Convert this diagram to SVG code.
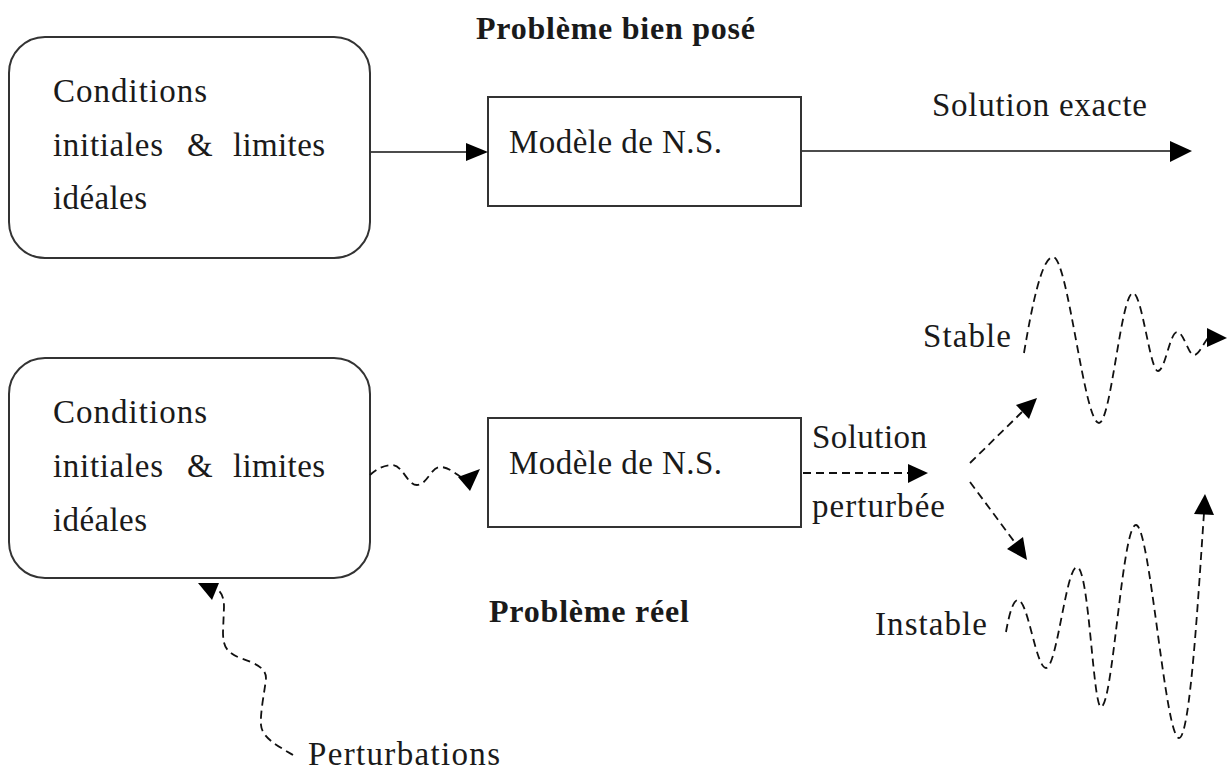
<svg xmlns="http://www.w3.org/2000/svg" width="1229" height="774" viewBox="0 0 1229 774">
<style>
text{font-family:"Liberation Serif","Times New Roman",serif;font-size:33px;fill:#1a1a1a}
.b{font-weight:bold;font-size:32px}
.box{fill:#fff;stroke:#333;stroke-width:2}
.ln{fill:none;stroke:#111;stroke-width:1.6}
.dl{fill:none;stroke:#111;stroke-width:1.8;stroke-dasharray:8 5}
.hd{fill:#000}
</style>
<rect width="1229" height="774" fill="#fff"/>
<text class="b" x="476" y="39" textLength="279">Problème bien posé</text>
<text class="b" x="489" y="622" textLength="200">Problème réel</text>
<g id="cond1">
<rect class="box" x="9" y="37" width="361" height="221" rx="36"/>
<text x="53" y="102" textLength="154">Conditions</text>
<text x="53" y="156" textLength="110">initiales</text>
<text x="187" y="156" textLength="19">&amp;</text>
<text x="233" y="156" textLength="92">limites</text>
<text x="53" y="209" textLength="94">idéales</text>
</g>
<g id="model1">
<rect class="box" x="488" y="97" width="313" height="109"/>
<text x="509" y="153" textLength="213">Modèle de N.S.</text>
</g>
<g id="cond2">
<rect class="box" x="9" y="358" width="361" height="220" rx="36"/>
<text x="53" y="423" textLength="154">Conditions</text>
<text x="53" y="477" textLength="110">initiales</text>
<text x="187" y="477" textLength="19">&amp;</text>
<text x="233" y="477" textLength="92">limites</text>
<text x="53" y="531" textLength="94">idéales</text>
</g>
<g id="model2">
<rect class="box" x="488" y="418" width="313" height="109"/>
<text x="509" y="474" textLength="213">Modèle de N.S.</text>
</g>
<g id="labels">
<text x="932" y="116" textLength="215">Solution exacte</text>
<text x="812" y="448" textLength="115">Solution</text>
<text x="812" y="517" textLength="133">perturbée</text>
<text x="923" y="347" textLength="88">Stable</text>
<text x="875" y="635" textLength="112">Instable</text>
<text x="308" y="765" textLength="192">Perturbations</text>
</g>
<g id="connectors">
<line class="ln" x1="371" y1="152" x2="468" y2="152"/>
<polygon class="hd" points="466,143 488,152 466,161"/>
<line class="ln" x1="802" y1="151" x2="1172" y2="151"/>
<polygon class="hd" points="1170,141 1192,151 1170,162"/>
<path class="dl" d="M370,475 C378,468 385,465 392,465 C403,465 407,485 417,485 C427,485 431,467 440,467 C447,467 452,471 461,477"/>
<polygon class="hd" points="458,477 480,469 470,491"/>
<line class="dl" x1="803" y1="473" x2="910" y2="473"/>
<polygon class="hd" points="908,464 928,473 908,483"/>
<line class="dl" x1="970" y1="463" x2="1022" y2="412"/>
<polygon class="hd" points="1016,405 1037,398 1029,419"/>
<line class="dl" x1="970" y1="482" x2="1016" y2="544"/>
<polygon class="hd" points="1007,549 1023,537 1027,560"/>
<path class="dl" d="M1024,353 C1032,305 1042,257 1053,257 C1068,257 1084,423 1099,423 C1111,423 1121,293 1133,293 C1142,293 1150,371 1158,371 C1165,371 1170,332 1177,332 C1184,332 1188,355 1194,355 C1199,355 1203,344 1208,338"/>
<polygon class="hd" points="1207,328 1227,338 1207,347"/>
<path class="dl" d="M1006,632 C1009,615 1013,600 1018,600 C1028,600 1036,668 1046,668 C1057,668 1066,567 1077,567 C1089,567 1093,707 1101,707 C1113,707 1122,525 1136,525 C1150,525 1165,738 1179,738 C1190,738 1198,600 1204,513"/>
<polygon class="hd" points="1194,514 1205,494 1214,515"/>
<path class="dl" d="M293,755 C278,746 262,738 261,725 C260,712 265,690 266,678 C266,668 255,663 240,658 C226,652 223,646 223,632 L224,607 C224,598 222,593 217,589"/>
<polygon class="hd" points="198,583 219,583 212,600"/>
</g>
</svg>
